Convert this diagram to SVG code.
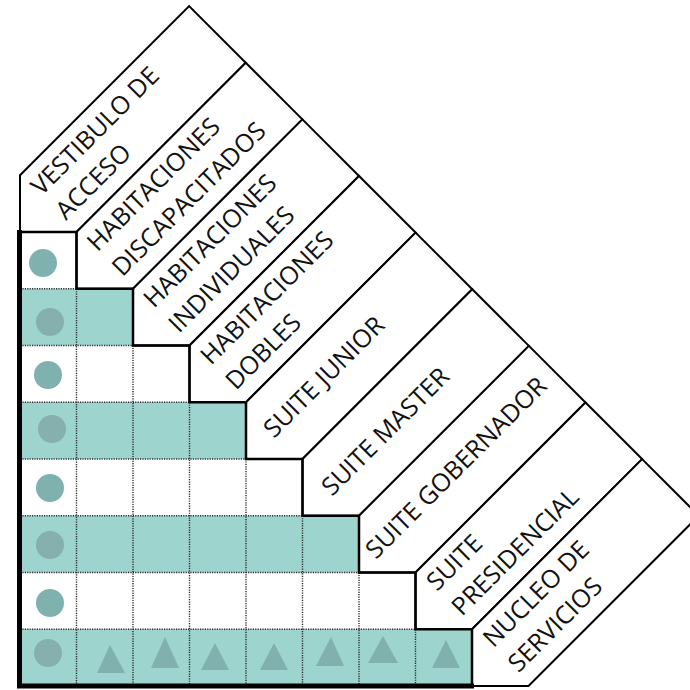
<svg xmlns="http://www.w3.org/2000/svg" width="690" height="690" viewBox="0 0 690 690">
<style>
.band{fill:#fff;stroke:#000;stroke-width:2;stroke-linejoin:miter}
.lbl{font-family:"Open Sans","Noto Sans","DejaVu Sans",sans-serif;font-size:25px;fill:#111}
.teal{fill:#9dd4ce}
.dot{stroke:#2a2a2a;stroke-width:1.4;stroke-dasharray:1.2 1.2;fill:none}
.stair{fill:none;stroke:#000;stroke-width:2.5;stroke-linejoin:miter}
.circ{fill:#7fb2af}
.circT{fill:#86b0ad}
.tri{fill:#80b1ae}
</style>
<rect width="690" height="690" fill="#fff"/>
<g id="connectors">
<polygon class="band" points="20,175.25 189.1,6.1 245.75,62.75 76.5,232 20,232"/>
<polygon class="band" points="76.5,232 245.75,62.75 302.4,119.4 133,288.75 76.5,288.75"/>
<polygon class="band" points="133,288.75 302.4,119.4 359,176 189.5,345.5 133,345.5"/>
<polygon class="band" points="189.5,345.5 359,176 415.6,232.6 246,402.25 189.5,402.25"/>
<polygon class="band" points="246,402.25 415.6,232.6 472.25,289.25 302.5,459 246,459"/>
<polygon class="band" points="302.5,459 472.25,289.25 528.9,345.9 359,515.75 302.5,515.75"/>
<polygon class="band" points="359,515.75 528.9,345.9 585.5,402.5 415.5,572.5 359,572.5"/>
<polygon class="band" points="415.5,572.5 585.5,402.5 642.1,459.1 472,629.25 415.5,629.25"/>
<polygon class="band" points="472,629.25 642.1,459.1 698.75,515.75 528.5,686 472,686"/>
</g>
<g id="matrix">
<rect class="teal" x="20" y="288.75" width="113" height="56.75"/>
<rect class="teal" x="20" y="402.25" width="226" height="56.75"/>
<rect class="teal" x="20" y="515.75" width="339" height="56.75"/>
<rect class="teal" x="20" y="629.25" width="452" height="56.75"/>
<path class="dot" d="M76.5,288.75V686M133,345.5V686M189.5,402.25V686M246,459V686M302.5,515.75V686M359,572.5V686M415.5,629.25V686"/>
<path class="dot" d="M20,288.75H76.5M20,345.5H133M20,402.25H189.5M20,459H246M20,515.75H302.5M20,572.5H359M20,629.25H415.5"/>
<path class="stair" d="M20,232H76.5V288.75H133V345.5H189.5V402.25H246V459H302.5V515.75H359V572.5H415.5V629.25H472V686"/>
<path d="M19.5,230V686H474" fill="none" stroke="#000" stroke-width="5"/>
<circle class="circ" cx="43" cy="263" r="14"/>
<circle class="circT" cx="50" cy="322" r="14"/>
<circle class="circ" cx="48" cy="375" r="14"/>
<circle class="circT" cx="52" cy="429" r="14"/>
<circle class="circ" cx="50" cy="488" r="14"/>
<circle class="circT" cx="50" cy="545" r="14"/>
<circle class="circ" cx="50" cy="603" r="14"/>
<circle class="circT" cx="48" cy="653" r="14"/>
<polygon class="tri" points="110,645 97,673 125,673"/>
<polygon class="tri" points="165,637 151,668 179,668"/>
<polygon class="tri" points="215,643 201,670 229,670"/>
<polygon class="tri" points="274,643 260,670 288,670"/>
<polygon class="tri" points="331,637 316,666 344,666"/>
<polygon class="tri" points="383,636 368,663 398,663"/>
<polygon class="tri" points="446,640 432,668 460,668"/>
</g>
<g id="vestibulo">
<text class="lbl" transform="translate(41.5,196.5) rotate(-45)">VESTIBULO  DE</text>
<text class="lbl" transform="translate(66,221) rotate(-45)">ACCESO</text>
</g>
<g id="hab-discapacitados">
<text class="lbl" transform="translate(97.5,252.5) rotate(-45)">HABITACIONES</text>
<text class="lbl" transform="translate(122.5,277.5) rotate(-45)">DISCAPACITADOS</text>
</g>
<g id="hab-individuales">
<text class="lbl" transform="translate(154,309) rotate(-45)">HABITACIONES</text>
<text class="lbl" transform="translate(179,334) rotate(-45)">INDIVIDUALES</text>
</g>
<g id="hab-dobles">
<text class="lbl" transform="translate(211,366) rotate(-45)">HABITACIONES</text>
<text class="lbl" transform="translate(236,391) rotate(-45)">DOBLES</text>
</g>
<g id="suite-junior">
<text class="lbl" transform="translate(274,439) rotate(-45)">SUITE JUNIOR</text>
</g>
<g id="suite-master">
<text class="lbl" transform="translate(332,497) rotate(-45)">SUITE MASTER</text>
</g>
<g id="suite-gobernador">
<text class="lbl" transform="translate(376,560) rotate(-45)">SUITE GOBERNADOR</text>
</g>
<g id="suite-presidencial">
<text class="lbl" transform="translate(437,592) rotate(-45)">SUITE</text>
<text class="lbl" transform="translate(462,617) rotate(-45)">PRESIDENCIAL</text>
</g>
<g id="nucleo-servicios">
<text class="lbl" transform="translate(493.5,648.5) rotate(-45)">NUCLEO  DE</text>
<text class="lbl" transform="translate(518.5,673.5) rotate(-45)">SERVICIOS</text>
</g>
</svg>
